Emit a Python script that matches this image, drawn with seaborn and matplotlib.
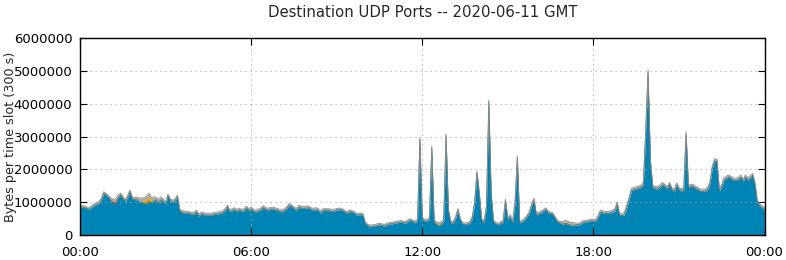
import numpy as np
import pandas as pd
import matplotlib
matplotlib.use("Agg")
import matplotlib.pyplot as plt
import seaborn as sns

title = "Destination UDP Ports -- 2020-06-11 GMT"
ylabel = "Bytes per time slot (300 s)"
xtick_hours = [0, 6, 12, 18, 24]
xtick_labels = ["00:00", "06:00", "12:00", "18:00", "00:00"]
ytick_values = [0, 1000000, 2000000, 3000000, 4000000, 5000000, 6000000]

# total bytes per 5-minute slot, in millions (288 slots + closing value at 24:00)
total_mb = [
    0.90, 0.90, 0.88, 0.85, 0.84, 0.90, 0.95, 0.98, 1.02, 1.12, 1.32, 1.26,
    1.20, 1.13, 1.08, 1.10, 1.22, 1.27, 1.18, 1.07, 1.20, 1.37, 1.15, 1.14,
    1.16, 1.12, 1.13, 1.14, 1.18, 1.27, 1.14, 1.16, 1.15, 1.07, 1.16, 1.10,
    1.00, 1.25, 1.10, 1.06, 1.10, 1.22, 0.78, 0.74, 0.73, 0.72, 0.71, 0.69,
    0.70, 0.76, 0.63, 0.70, 0.68, 0.66, 0.67, 0.65, 0.68, 0.69, 0.70, 0.71,
    0.74, 0.80, 0.91, 0.77, 0.80, 0.83, 0.78, 0.82, 0.78, 0.80, 0.88, 0.80,
    0.85, 0.78, 0.76, 0.79, 0.82, 0.89, 0.84, 0.81, 0.84, 0.85, 0.83, 0.81,
    0.78, 0.76, 0.81, 0.86, 0.96, 0.92, 0.85, 0.81, 0.90, 0.88, 0.86, 0.88,
    0.89, 0.84, 0.81, 0.83, 0.82, 0.73, 0.79, 0.81, 0.80, 0.80, 0.77, 0.78,
    0.81, 0.82, 0.81, 0.77, 0.71, 0.74, 0.76, 0.73, 0.67, 0.66, 0.67, 0.66,
    0.40, 0.33, 0.30, 0.31, 0.32, 0.34, 0.36, 0.34, 0.32, 0.35, 0.38, 0.39,
    0.40, 0.42, 0.43, 0.44, 0.42, 0.41, 0.46, 0.50, 0.45, 0.42, 0.48, 2.96,
    0.55, 0.46, 0.48, 0.52, 2.71, 0.45, 0.40, 0.38, 0.41, 0.45, 3.08, 0.80,
    0.42, 0.41, 0.55, 0.81, 0.50, 0.38, 0.36, 0.38, 0.41, 0.55, 1.00, 1.95,
    1.30, 0.50, 0.42, 0.90, 4.11, 1.30, 0.45, 0.38, 0.36, 0.40, 0.45, 1.09,
    0.52, 0.62, 0.42, 1.00, 2.41, 0.42, 0.44, 0.50, 0.60, 0.70, 0.95, 1.12,
    0.66, 0.70, 0.72, 0.78, 0.83, 0.72, 0.70, 0.67, 0.55, 0.44, 0.42, 0.41,
    0.44, 0.43, 0.39, 0.38, 0.37, 0.36, 0.36, 0.40, 0.44, 0.45, 0.46, 0.48,
    0.47, 0.48, 0.60, 0.76, 0.73, 0.72, 0.71, 0.73, 0.76, 0.78, 1.01, 0.66,
    0.66, 0.68, 0.90, 1.15, 1.42, 1.45, 1.47, 1.49, 1.52, 1.60, 3.20, 5.03,
    2.30, 1.50, 1.48, 1.47, 1.52, 1.60, 1.55, 1.47, 1.60, 1.45, 1.38, 1.59,
    1.45, 1.40, 1.45, 3.15, 1.52, 1.55, 1.54, 1.48, 1.45, 1.40, 1.40, 1.40,
    1.45, 1.62, 2.10, 2.33, 2.30, 1.40, 1.55, 1.75, 1.80, 1.83, 1.78, 1.73,
    1.73, 1.76, 1.83, 1.70, 1.83, 1.74, 1.80, 1.88, 1.60, 1.05, 0.95, 0.88,
    0.86,
]

# grey "other" band on top, read per hour (millions)
gray_hourly_mb = [0.05, 0.06, 0.09, 0.06, 0.06, 0.06, 0.06, 0.06, 0.06, 0.05, 0.05, 0.05,
                  0.05, 0.05, 0.05, 0.05, 0.05, 0.05, 0.06, 0.07, 0.07, 0.07, 0.07, 0.07]

# small red and orange layers (slot index, millions)
red_slots = [13, 14, 15, 16]
red_mb = [0.03, 0.06, 0.07, 0.04]
orange_slots = [25, 26, 27, 28, 29, 30, 31, 150, 151, 152, 203, 204, 205, 206, 207, 208]
orange_mb = [0.02, 0.04, 0.08, 0.13, 0.15, 0.07, 0.03, 0.03, 0.04, 0.03,
             0.03, 0.04, 0.04, 0.03, 0.03, 0.02]

n = len(total_mb)
slot = np.arange(n)
hours = slot * 5 / 60.0
total = np.array(total_mb) * 1e6
gray = np.array(gray_hourly_mb + [gray_hourly_mb[-1]])[np.minimum(slot // 12, 24)] * 1e6
red = np.zeros(n)
red[red_slots] = np.array(red_mb) * 1e6
orange = np.zeros(n)
orange[orange_slots] = np.array(orange_mb) * 1e6
blue = total - gray - red - orange

df = pd.DataFrame({"hour": hours, "blue": blue, "red": red, "orange": orange, "gray": gray})
df["c1"] = df["blue"]
df["c2"] = df["c1"] + df["red"]
df["c3"] = df["c2"] + df["orange"]
df["c4"] = df["c3"] + df["gray"]

sns.set_style("white")
plt.rcParams["font.family"] = ["DejaVu Sans"]

fig = plt.figure(figsize=(7.86, 2.60), dpi=100)
ax = fig.add_axes([80 / 786, 25 / 260, 684.5 / 786, 197 / 260])

ax.fill_between(df["hour"], 0, df["c1"], color="#0083b5", linewidth=0, zorder=2)
ax.fill_between(df["hour"], df["c1"], df["c2"], color="#c8401a", linewidth=0, zorder=2)
ax.fill_between(df["hour"], df["c2"], df["c3"], color="#f0a000", linewidth=0, zorder=2)
ax.fill_between(df["hour"], df["c3"], df["c4"], color="#a8a8a8", linewidth=0, zorder=2)
sns.lineplot(data=df, x="hour", y="c1", ax=ax, color="#3d7268", linewidth=0.5, zorder=3)
sns.lineplot(data=df, x="hour", y="c4", ax=ax, color="#8a8a8a", linewidth=0.6, zorder=3)

ax.set_xlim(0, 24)
ax.set_ylim(0, 6000000)
ax.set_xticks(xtick_hours)
ax.set_xticklabels(xtick_labels)
ax.set_yticks(ytick_values)
ax.set_yticklabels([str(v) for v in ytick_values])
ax.tick_params(direction="in", length=5, width=0.8, colors="black", labelsize=9.5,
               top=True, right=True, left=True, bottom=True)
ax.tick_params(axis="x", pad=8)
ax.tick_params(axis="y", pad=5.5)
ax.grid(True, color="#a8a8a8", linestyle=(0, (1, 3.5)), linewidth=0.8, zorder=1)
ax.set_axisbelow(False)
for s in ax.spines.values():
    s.set_color("black")
    s.set_linewidth(1.0)
    s.set_zorder(4)

ax.set_xlabel("")
ax.set_ylabel(ylabel, fontsize=9.2)
ax.yaxis.set_label_coords(-0.0925, 0.5)
ax.set_title(title, fontsize=10.7, pad=15)

fig.savefig("out.png", dpi=100)
